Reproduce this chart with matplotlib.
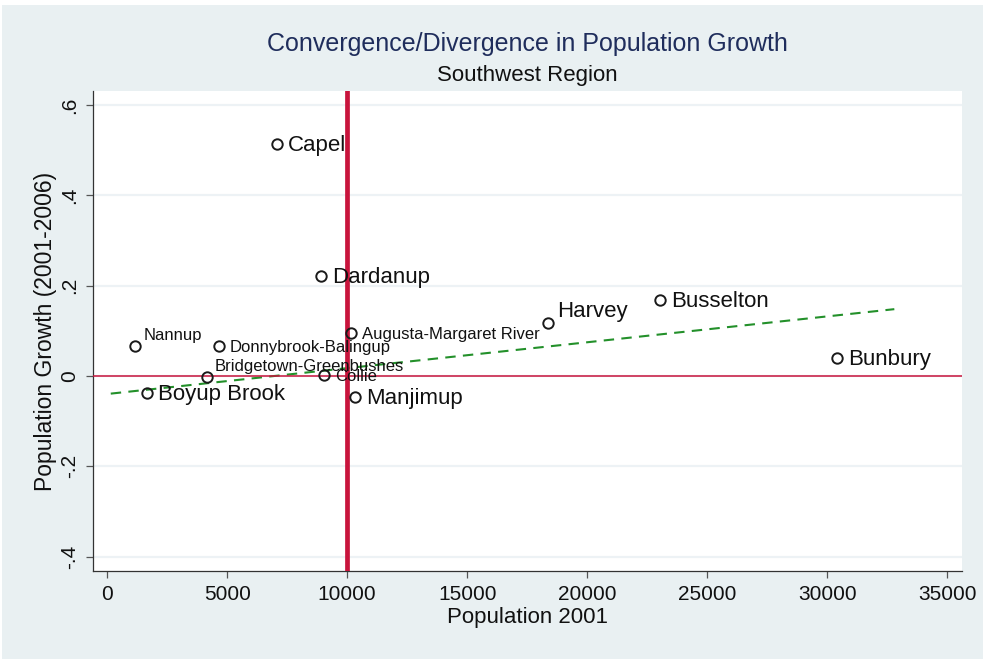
import matplotlib
matplotlib.use('Agg')
import matplotlib.pyplot as plt
from matplotlib.patches import Rectangle
import numpy as np

# Data
towns = ['Capel', 'Dardanup', 'Harvey', 'Busselton', 'Bunbury',
         'Augusta-Margaret River', 'Nannup', 'Donnybrook-Balingup',
         'Bridgetown-Greenbushes', 'Collie', 'Boyup Brook', 'Manjimup']
pop2001 = [7070, 8910, 18390, 23040, 30430,
           10150, 1180, 4650, 4150, 9030, 1640, 10320]
growth = [0.513, 0.221, 0.118, 0.168, 0.040,
          0.096, 0.066, 0.066, -0.003, 0.002, -0.038, -0.047]
# big / small label font, and label position (clock style like Stata)
label_big = [True, True, True, True, True,
             False, False, False, False, False, True, True]
label_pos = [3, 3, 1, 3, 3, 3, 1, 3, 1, 3, 3, 3]

# fitted line end points
fit_x = [150, 32800]
fit_y = [-0.039, 0.148]

x_ticks = [0, 5000, 10000, 15000, 20000, 25000, 30000, 35000]
y_ticks = [-0.4, -0.2, 0, 0.2, 0.4, 0.6]
y_tick_labels = ['-.4', '-.2', '0', '.2', '.4', '.6']

bg = '#e9f0f2'
plt.rcParams['font.family'] = ['Liberation Sans', 'DejaVu Sans']

fig = plt.figure(figsize=(9.83, 6.59), dpi=100)
fig.patch.set_facecolor('white')
fig.patches.append(Rectangle((2 / 983, 0), 1, 654 / 659, transform=fig.transFigure,
                             facecolor=bg, edgecolor='none', zorder=-10))

ax = fig.add_axes([93 / 983, 1 - 571 / 659, 869 / 983, 480 / 659])
ax.set_facecolor('white')
ax.set_xlim(-590, 35620)
ax.set_ylim(-0.4317, 0.631)

for yt in y_ticks:
    ax.axhline(yt, color='#edf2f5', lw=1.6, zorder=0)

ax.plot(fit_x, fit_y, color='#23902a', lw=1.5, ls=(0, (5, 3.5)), zorder=2)
ax.axvline(10000, color='#c8143c', lw=3.4, zorder=3)
ax.axhline(0, color='#c8143c', lw=1.1, zorder=3)

ax.plot(pop2001, growth, 'o', ms=7.5, mfc='none', mec='#1a1a1a', mew=1.4, zorder=4)

for name, x, y, big, pos in zip(towns, pop2001, growth, label_big, label_pos):
    size = 16 if big else 12
    if pos == 1:
        off = (6, 8)
    else:
        off = (8, -1)
    ax.annotate(name, (x, y), xytext=off, textcoords='offset points',
                ha='left', va='center', fontsize=size, color='#111111', zorder=5)

for side in ['top', 'right']:
    ax.spines[side].set_visible(False)
for side in ['left', 'bottom']:
    ax.spines[side].set_color('#333333')
    ax.spines[side].set_linewidth(0.9)

ax.set_xticks(x_ticks)
ax.set_xticklabels([str(t) for t in x_ticks])
ax.set_yticks(y_ticks)
ax.set_yticklabels(y_tick_labels, rotation=90, va='center')
ax.tick_params(axis='both', length=5, width=0.9, color='#555555', labelsize=15,
               labelcolor='#111111', pad=5)

ax.set_xlabel('Population 2001', fontsize=16, color='#111111', labelpad=2)
ax.set_ylabel('Population Growth (2001-2006)', fontsize=16.5, color='#111111', labelpad=2)

fig.text(527 / 983, 1 - 44 / 659, 'Convergence/Divergence in Population Growth',
         ha='center', va='center', fontsize=18, color='#1f2d5c')
fig.text(527 / 983, 1 - 75 / 659, 'Southwest Region',
         ha='center', va='center', fontsize=16, color='#111111')

plt.savefig('out.png', dpi=100, facecolor=fig.get_facecolor())
